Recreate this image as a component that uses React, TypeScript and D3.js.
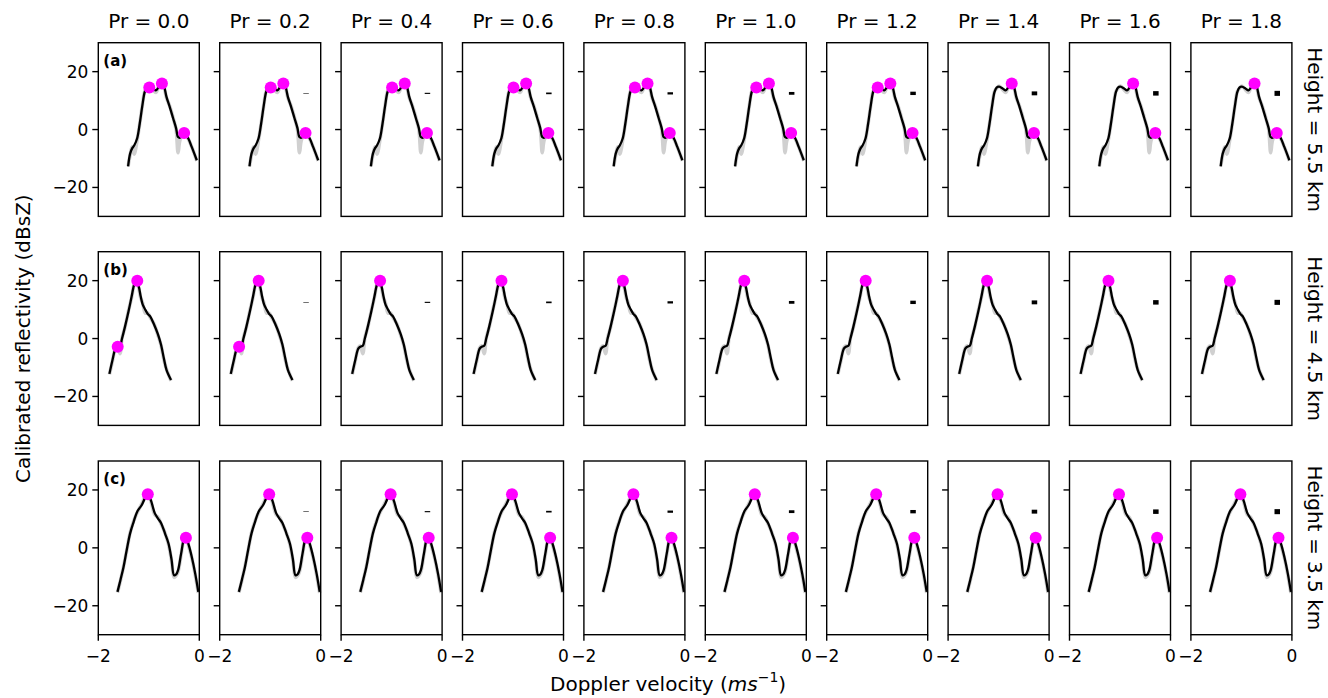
import React from 'react';
import * as d3 from 'd3';

// ---------- data ----------
const prValues = [0.0, 0.2, 0.4, 0.6, 0.8, 1.0, 1.2, 1.4, 1.6, 1.8];
const rowLetters = ['(a)', '(b)', '(c)'];
const heightLabels = ['Height = 5.5 km', 'Height = 4.5 km', 'Height = 3.5 km'];
const xTicks = [-2, 0];
const yTicks = [-20, 0, 20];

// Height 5.5 km
const velA = [-1.41, -1.37, -1.33, -1.29, -1.23, -1.18, -1.13, -1.08, -1.04, -0.99, -0.92, -0.86, -0.8, -0.74, -0.7, -0.65, -0.58, -0.52, -0.46, -0.42, -0.38, -0.3, -0.22, -0.15, -0.05];
const smoothA = [-12.7, -8.3, -6.5, -5.5, -3.0, 2, 8, 13, 14.5, 14.8, 14.2, 13.5, 14.8, 16, 15, 11.3, 7.5, 4, 0.5, -2.6, -2.8, -1.2, -3, -6, -10.6];
const rawA = [-12.7, -8.8, -6.0, -8.5, -3.5, 2, 8, 13.2, 14.2, 15, 13.8, 12.8, 15, 16.2, 14.8, 11, 7.8, 4.2, 0, -8, -3.5, -1.4, -3.2, -6, -10.8];
const peakVelA = [-0.99, -0.74, -0.3];
const peakZA = [14.5, 15.9, -1.2];
const shownA = [[0, 1, 2], [0, 1, 2], [0, 1, 2], [0, 1, 2], [0, 1, 2], [0, 1, 2], [0, 1, 2], [1, 2], [1, 2], [1, 2]];

// Height 4.5 km
const velB = [-1.78, -1.72, -1.66, -1.62, -1.57, -1.53, -1.47, -1.4, -1.34, -1.29, -1.25, -1.2, -1.16, -1.12, -1.07, -1.02, -0.97, -0.9, -0.82, -0.76, -0.7, -0.65, -0.56];
const smoothB = [-12.2, -7.5, -3.5, -2.8, -2.5, 0, 4.2, 9.5, 14.5, 18.6, 20, 18, 14.5, 11.7, 10, 8.5, 7.6, 5, 1.5, -2, -7, -10.8, -14.3];
const rawB = [-12.4, -7.8, -3.2, -2.5, -5.2, 0.2, 4.0, 9.8, 14.2, 18.8, 20.2, 17.6, 14.0, 12.2, 8.8, 8.8, 7.2, 5.2, 1.2, -2.2, -7.4, -10.6, -14.6];
const peakVelB = [-1.616, -1.228];
const peakZB = [-2.8, 20];
const shownB = [[0, 1], [0, 1], [1], [1], [1], [1], [1], [1], [1], [1]];

// Height 3.5 km
const velC = [-1.62, -1.56, -1.5, -1.44, -1.37, -1.3, -1.23, -1.14, -1.08, -1.02, -0.96, -0.88, -0.82, -0.76, -0.68, -0.61, -0.55, -0.5, -0.46, -0.42, -0.36, -0.3, -0.26, -0.21, -0.15, -0.08, -0.02];
const smoothC = [-15.2, -11, -6.6, -1, 5, 9, 12.5, 14.8, 17, 18.5, 16.5, 11.9, 10.2, 8.7, 5, 1.5, -4, -9.5, -9.2, -7.7, -2, 3, 3.5, 1, -3.1, -9, -15.2];
const rawC = [-15.4, -11.2, -6.4, -1.2, 5.2, 9.2, 12.2, 15.2, 17.4, 18.8, 16.2, 11.4, 10.6, 8.4, 5.2, 1.2, -4.4, -10.2, -9.6, -8.2, -2.4, 3.2, 3.8, 0.6, -3.4, -9.4, -15.6];
const peakVelC = [-1.02, -0.265];
const peakZC = [18.5, 3.5];
const shownC = [[0, 1], [0, 1], [0, 1], [0, 1], [0, 1], [0, 1], [0, 1], [0, 1], [0, 1], [0, 1]];

const markVel = -0.29;
const markZ = 12.5;

const rows = [
  { vel: velA, smooth: smoothA, raw: rawA, pv: peakVelA, pz: peakZA, shown: shownA },
  { vel: velB, smooth: smoothB, raw: rawB, pv: peakVelB, pz: peakZB, shown: shownB },
  { vel: velC, smooth: smoothC, raw: rawC, pv: peakVelC, pz: peakZC, shown: shownC },
];

// ---------- layout ----------
const W = 1328;
const H = 698;
const colLeft0 = 98.3;
const colStep = 121.4;
const panelW = 101;
const rowTops = [42.7, 251.7, 461];
const panelH = 173.7;
const FONT = 'DejaVu Sans, Liberation Sans, sans-serif';

export default function App() {
  const fmt = d3.format('d');
  return (
    <svg width={W} height={H} style={{ position: 'absolute', left: 0, top: 0, background: '#fff' }} fontFamily={FONT}>
      <rect x={0} y={0} width={W} height={H} fill="#fff" />
      {rows.map((row, ri) => {
        const top = rowTops[ri];
        const y = d3.scaleLinear().domain([-30, 30]).range([top + panelH, top]);
        return (
          <g key={ri}>
            {prValues.map((pr, ci) => {
              const left = colLeft0 + ci * colStep;
              const x = d3.scaleLinear().domain([-2, 0]).range([left, left + panelW]);
              const line = d3
                .line<number>()
                .x((_, i) => x(row.vel[i]))
                .curve(d3.curveCatmullRom.alpha(0.5));
              const rawPath = line.y((d) => y(d))(row.raw) || '';
              const smoothPath = line.y((d) => y(d))(row.smooth) || '';
              const markH = pr * 2.8;
              return (
                <g key={ci}>
                  <path d={rawPath} fill="none" stroke="#d0d0d0" strokeWidth={3.6} strokeLinejoin="round" />
                  <path d={smoothPath} fill="none" stroke="#000" strokeWidth={2.3} strokeLinejoin="round" />
                  {row.shown[ci].map((pi) => (
                    <circle key={pi} cx={x(row.pv[pi])} cy={y(row.pz[pi])} r={6} fill="#ff00ff" />
                  ))}
                  {pr > 0 && (
                    <rect x={x(markVel) - 2.75} y={y(markZ) - markH / 2} width={5.5} height={markH} fill="#000" />
                  )}
                  <rect x={left} y={top} width={panelW} height={panelH} fill="none" stroke="#000" strokeWidth={1.4} />
                  {yTicks.map((t) => (
                    <line key={t} x1={left - 6} x2={left} y1={y(t)} y2={y(t)} stroke="#000" strokeWidth={1.4} />
                  ))}
                  {ci === 0 &&
                    yTicks.map((t) => (
                      <text key={t} x={left - 10} y={y(t)} dy="0.35em" textAnchor="end" fontSize={17}>
                        {fmt(t)}
                      </text>
                    ))}
                  {ri === 2 &&
                    xTicks.map((t) => (
                      <g key={t}>
                        <line x1={x(t)} x2={x(t)} y1={top + panelH} y2={top + panelH + 6} stroke="#000" strokeWidth={1.4} />
                        <text x={x(t)} y={top + panelH + 27} textAnchor="middle" fontSize={17}>
                          {fmt(t)}
                        </text>
                      </g>
                    ))}
                  {ri === 0 && (
                    <text x={left + panelW / 2} y={28} textAnchor="middle" fontSize={20}>
                      {`Pr = ${pr.toFixed(1)}`}
                    </text>
                  )}
                  {ci === 0 && (
                    <text x={left + 5} y={top + 23} fontSize={15} fontWeight="bold">
                      {rowLetters[ri]}
                    </text>
                  )}
                </g>
              );
            })}
            <text
              transform={`translate(1308,${top + panelH / 2}) rotate(90)`}
              textAnchor="middle"
              fontSize={20}
            >
              {heightLabels[ri]}
            </text>
          </g>
        );
      })}
      <text transform={`translate(30,${(rowTops[0] + rowTops[2] + panelH) / 2}) rotate(-90)`} textAnchor="middle" fontSize={20}>
        Calibrated reflectivity (dBsZ)
      </text>
      <text x={550} y={691} fontSize={20}>
        Doppler velocity (
        <tspan fontStyle="italic">ms</tspan>
        <tspan fontSize={14} dy={-9}>−1</tspan>
        <tspan dy={9}>)</tspan>
      </text>
    </svg>
  );
}
